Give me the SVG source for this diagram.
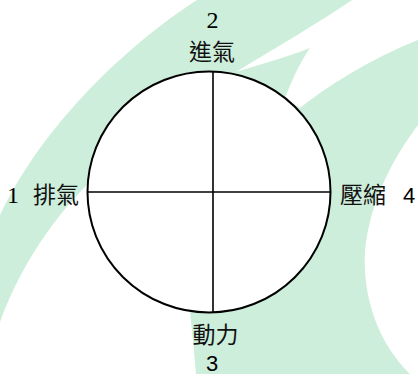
<svg xmlns="http://www.w3.org/2000/svg" width="418" height="374" viewBox="0 0 418 374">
  <style>
    .bg { fill: #cdeedb; stroke: none; }
    .wh { fill: #ffffff; stroke: none; }
    .ring { fill: #ffffff; stroke: #000000; stroke-width: 2; }
    .axis { stroke: #000000; stroke-width: 1.6; fill: none; }
    .num-serif { font-family: "Liberation Serif", "Times New Roman", serif; font-size: 24px; fill: #000000; }
    .num-sans { font-family: "Liberation Sans", Arial, sans-serif; font-size: 22px; fill: #000000; }
    .cjk { font-family: "Noto Sans CJK TC", "Noto Sans CJK SC", sans-serif; font-size: 23px; fill: #111111; }
  </style>

  <g id="background">
    <rect x="0" y="0" width="418" height="374" fill="#ffffff"/>
    <path class="bg" d="M197,0 L418,0 L418,374 L0,374 L0,215 C40,130 120,50 197,0 Z"/>
    <path class="wh" d="M352,0 L418,0 L418,40 C380,55 335,80 300,108 L285,98 C292,80 300,62 310,48 C290,56 262,64 236,72 C280,45 320,22 352,0 Z"/>
    <path class="wh" d="M418,125 C395,155 370,200 365,250 C362,300 380,345 410,374 L418,374 Z"/>
    <path class="wh" d="M0,322 C15,280 45,225 92,180 L200,250 L190,312 C192,330 194,350 196,374 L0,374 Z"/>
  </g>

  <g id="cycle">
    <ellipse class="ring" cx="209" cy="192" rx="121.5" ry="120.5"/>
  </g>

  <g id="connectors">
    <line class="axis" x1="88" y1="192" x2="330.5" y2="192"/>
    <line class="axis" x1="213" y1="72" x2="213" y2="312.5"/>
  </g>

  <g id="node-intake">
    <text class="num-serif" x="212.5" y="28" text-anchor="middle">2</text>
    <text class="cjk" x="212" y="60" text-anchor="middle">進氣</text>
  </g>

  <g id="node-exhaust">
    <text class="num-serif" x="13" y="203" text-anchor="middle">1</text>
    <text class="cjk" x="33" y="202.5">排氣</text>
  </g>

  <g id="node-compression">
    <text class="cjk" x="340" y="203">壓縮</text>
    <text class="num-sans" x="409" y="202.5" text-anchor="middle">4</text>
  </g>

  <g id="node-power">
    <text class="cjk" x="215.5" y="343" text-anchor="middle">動力</text>
    <text class="num-sans" x="212" y="370.5" text-anchor="middle">3</text>
  </g>
</svg>
